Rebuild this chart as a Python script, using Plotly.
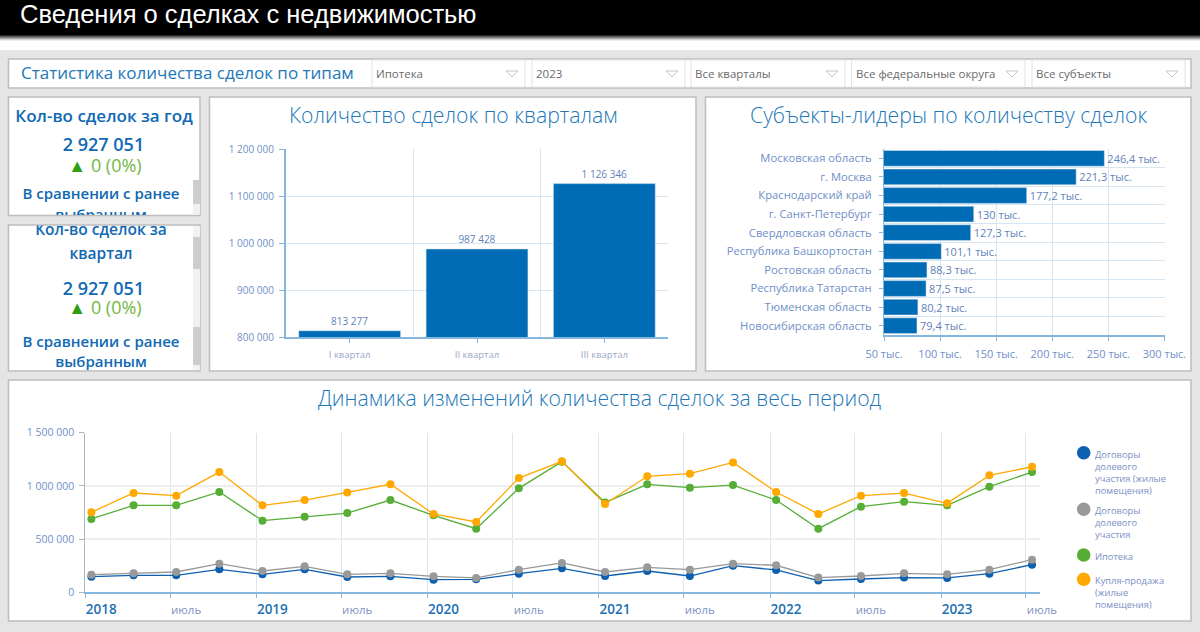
import plotly.graph_objects as go

W, H = 1200, 632
FONT = "Open Sans"
BLUE = "#006cb5"
TITLE_BLUE = "#2277b8"
TICK_BLUE = "#6f8fc8"
GRID = "#d6e6f3"
AXIS = "#86b6dc"

# Data
quarters = ["I квартал", "II квартал", "III квартал"]
quarter_deals = [813277, 987428, 1126346]

regions = ["Московская область", "г. Москва", "Краснодарский край", "г. Санкт-Петербург",
           "Свердловская область", "Республика Башкортостан", "Ростовская область",
           "Республика Татарстан", "Тюменская область", "Новосибирская область"]
region_deals = [246.4, 221.3, 177.2, 130, 127.3, 101.1, 88.3, 87.5, 80.2, 79.4]
region_ticks = [50, 100, 150, 200, 250, 300]

dates = ["2018-01-14", "2018-04-14", "2018-07-14", "2018-10-14",
         "2019-01-14", "2019-04-14", "2019-07-14", "2019-10-14",
         "2020-01-14", "2020-04-14", "2020-07-14", "2020-10-14",
         "2021-01-14", "2021-04-14", "2021-07-14", "2021-10-14",
         "2022-01-14", "2022-04-14", "2022-07-14", "2022-10-14",
         "2023-01-14", "2023-04-14", "2023-07-14"]
ddu_housing = [147000, 160000, 160000, 216000, 169000, 216000, 144000, 150000, 119000, 122000, 175000, 225000,
               153000, 200000, 153000, 250000, 210000, 110000, 125000, 138000, 135000, 175000, 260000]
ddu_all = [166000, 178000, 191000, 269000, 200000, 244000, 169000, 178000, 150000, 135000, 213000, 276000,
           191000, 235000, 213000, 269000, 254000, 138000, 153000, 178000, 169000, 213000, 307000]
mortgage = [689000, 817000, 817000, 943000, 673000, 711000, 745000, 867000, 723000, 598000, 977000, 1228000,
            845000, 1015000, 983000, 1008000, 867000, 598000, 805000, 852000, 817000, 993000, 1130000]
purchase = [752000, 933000, 908000, 1130000, 817000, 867000, 939000, 1015000, 736000, 661000, 1074000, 1231000,
            830000, 1090000, 1115000, 1221000, 943000, 736000, 908000, 933000, 836000, 1099000, 1180000]

year_ticks = ["2018-01-01", "2018-07-01", "2019-01-01", "2019-07-01", "2020-01-01", "2020-07-01",
              "2021-01-01", "2021-07-01", "2022-01-01", "2022-07-01", "2023-01-01", "2023-07-01"]
year_labels = ["2018", "июль", "2019", "июль", "2020", "июль", "2021", "июль", "2022", "июль", "2023", "июль"]

series_names = ["Договоры<br>долевого<br>участия (жилые<br>помещения)",
                "Договоры<br>долевого<br>участия",
                "Ипотека",
                "Купля-продажа<br>(жилые<br>помещения)"]
series_colors = ["#0d5fb0", "#999999", "#56ae36", "#ffa800"]

filters = ["Ипотека", "2023", "Все кварталы", "Все федеральные округа", "Все субъекты"]


# pixel helpers, the reference was measured in screen pixels
def dom_x(a, b):
    return [a / W, b / W]


def dom_y(top, bottom):
    return [1 - bottom / H, 1 - top / H]


shapes = []
annotations = []


def box(x0, y0, x1, y1, fill, line=None, width=1, layer="below"):
    shapes.append(dict(type="rect", xref="paper", yref="paper", layer=layer,
                       x0=x0 / W, x1=x1 / W, y0=1 - y0 / H, y1=1 - y1 / H,
                       fillcolor=fill, line=dict(color=line or fill, width=width if line else 0)))


def label(x, y, text, size, color, anchor="center", weight=400, family=FONT, valign="middle"):
    annotations.append(dict(xref="paper", yref="paper", x=x / W, y=1 - y / H, text=text, showarrow=False,
                            xanchor=anchor, yanchor=valign, align=anchor if anchor != "center" else "center",
                            borderpad=0, font=dict(family=family, size=size, color=color, weight=weight)))


fig = go.Figure()

# Page background and header
box(0, 0, W, H, "#ffffff")
box(0, 50, W, H, "#e5e5e5")
box(0, 0, W, 35, "#000000")
for i, c in enumerate(["#2a2a2a", "#555555", "#808080", "#a8a8a8", "#cfcfcf", "#eeeeee"]):
    box(0, 35 + i, W, 36 + i, c)
label(19, 14, "Сведения о сделках с недвижимостью", 25.5, "#ffffff", "left", family="Liberation Sans")

# Panels
PANEL_LINE = "#bdbdbd"
box(8.5, 59, 1191, 88, "#ffffff", PANEL_LINE, 1.5)
box(8.5, 97, 200, 215.5, "#ffffff", PANEL_LINE, 1.5)
box(8.5, 225, 200, 371, "#ffffff", PANEL_LINE, 1.5)
box(209.5, 97, 696, 371, "#ffffff", PANEL_LINE, 1.5)
box(705.5, 97, 1191, 371, "#ffffff", PANEL_LINE, 1.5)
box(8.5, 380, 1191, 621, "#ffffff", PANEL_LINE, 1.5)

# Filter row
label(20, 73, "Статистика количества сделок по типам", 17, TITLE_BLUE, "left")
filter_edges = [(372, 525), (532, 685), (691, 845), (851.5, 1025), (1032, 1185)]
for (a, b), name in zip(filter_edges, filters):
    box(a, 60, b, 87, "#ffffff", "#e2e2e2", 1)
    label(a + 3, 74, name, 11.5, "#6a6a6a", "left")
    tx = b - 13
    shapes.append(dict(type="path", xref="paper", yref="paper", layer="below",
                       path=f"M {(tx - 6) / W} {1 - 71 / H} L {(tx + 6) / W} {1 - 71 / H} L {tx / W} {1 - 77 / H} Z",
                       line=dict(color="#c6c6c6", width=1), fillcolor="#ffffff"))

# KPI card scrollbars
box(193, 180, 200, 214.5, "#f1f1f1", layer="below")
box(193, 180, 200, 204, "#cdcdcd", layer="below")
box(193, 226, 200, 370, "#f1f1f1", layer="below")
box(193, 237, 200, 269, "#cdcdcd", layer="below")
box(193, 327, 200, 365, "#cdcdcd", layer="below")

# Chart titles
label(453, 114.5, "Количество сделок по кварталам", 21.2, TITLE_BLUE, weight=300)
label(949, 114.5, "Субъекты-лидеры по количеству сделок", 21.2, TITLE_BLUE, weight=300)
label(600, 397.5, "Динамика изменений количества сделок за весь период", 21.2, TITLE_BLUE, weight=300)

# Quarter bars
qx = list(range(len(quarters)))
fig.add_trace(go.Bar(x=qx, y=quarter_deals, marker=dict(color=BLUE), width=0.8,
                     text=[f"{v:,d}".replace(",", " ") for v in quarter_deals], textposition="outside",
                     textfont=dict(family=FONT, size=10, color="#5f82b8"), cliponaxis=False,
                     xaxis="x", yaxis="y", showlegend=False))

# Region bars
rx = list(range(len(regions)))
fig.add_trace(go.Bar(y=rx, x=region_deals, orientation="h", marker=dict(color=BLUE), width=0.85,
                     text=[f"{v:g}".replace(".", ",") + " тыс." for v in region_deals], textposition="outside",
                     textfont=dict(family=FONT, size=11, color="#5f82b8"), cliponaxis=False,
                     xaxis="x2", yaxis="y2", showlegend=False))

# Time series
for values, color in zip([ddu_housing, ddu_all, mortgage, purchase], series_colors):
    fig.add_trace(go.Scatter(x=dates, y=values, mode="lines+markers", line=dict(color=color, width=1.3),
                             marker=dict(color=color, size=8), xaxis="x3", yaxis="y3", showlegend=False))

# Legend drawn by hand: big dots with the first text line beside them
legend_dots = [452.7, 509.3, 555, 579.3]
for name, color, cy in zip(series_names, series_colors, legend_dots):
    shapes.append(dict(type="circle", xref="paper", yref="paper", layer="above",
                       x0=(1083.7 - 6.8) / W, x1=(1083.7 + 6.8) / W, y0=1 - (cy + 6.8) / H, y1=1 - (cy - 6.8) / H,
                       fillcolor=color, line=dict(width=0)))
    label(1094, cy - 6, name, 9.3, "#7a8fc4", "left", valign="top")

# KPI cards use text traces on hidden axes so the panel edge clips them
HEAD = "#0f69b4"
delta = '<span style="color:#2f9e0e">▲</span> <span style="color:#71b83f">0 (0%)</span>'


def card_text(ys, xs, texts, sizes, weights, xa, ya):
    for y, x, t, s, w in zip(ys, xs, texts, sizes, weights):
        fig.add_trace(go.Scatter(x=[x], y=[y], mode="text", text=[t], textposition="middle center",
                                 textfont=dict(family=FONT, size=s, color=HEAD, weight=w),
                                 xaxis=xa, yaxis=ya, showlegend=False, hoverinfo="skip"))


card_text([118, 146.5, 167, 195, 216.5], [104, 103.5, 105, 101, 101],
          ["Кол-во сделок за год", "2 927 051", delta, "В сравнении с ранее", "выбранным"],
          [17, 18, 18, 15, 15], [600, 600, 400, 600, 600], "x4", "y4")
card_text([231, 255, 290, 309, 343, 363], [101, 101, 103.5, 105, 101, 101],
          ["Кол-во сделок за", "квартал", "2 927 051", delta, "В сравнении с ранее", "выбранным"],
          [15.5, 15.5, 18, 18, 15, 15], [600, 600, 600, 400, 600, 600], "x5", "y5")

hidden = dict(visible=False, fixedrange=True)
fig.update_layout(
    width=W, height=H, margin=dict(l=0, r=0, t=0, b=0, autoexpand=False), autosize=False,
    paper_bgcolor="#ffffff", plot_bgcolor="rgba(0,0,0,0)", separators=", ",
    font=dict(family=FONT), shapes=shapes, annotations=annotations, bargap=0.2,
    xaxis=dict(anchor="y", domain=dom_x(286, 668), range=[-0.5, 2.5], tickvals=qx, ticktext=quarters, showgrid=False,
               minor=dict(tickvals=[-0.5, 0.5, 1.5, 2.5], showgrid=True, gridcolor=GRID, ticks=""),
               ticks="outside", ticklen=4, tickcolor=AXIS, showline=True, linecolor=AXIS, linewidth=2,
               zeroline=False, tickfont=dict(size=9.5, color="#9aa8c8"), ticklabelstandoff=4),
    yaxis=dict(anchor="x", domain=dom_y(149, 337), range=[800000, 1200000],
               tickvals=[800000, 900000, 1000000, 1100000, 1200000],
               tickformat=",d", gridcolor=GRID, ticks="outside", ticklen=5, tickcolor=AXIS, showline=True,
               linecolor=AXIS, linewidth=2, zeroline=False, tickfont=dict(size=10, color=TICK_BLUE),
               ticklabelstandoff=3),
    xaxis2=dict(anchor="y2", domain=dom_x(884, 1164.5), range=[50, 300], tickvals=region_ticks,
                ticktext=[f"{t} тыс." for t in region_ticks], gridcolor=GRID, ticks="outside", ticklen=4,
                tickcolor=AXIS, showline=True, linecolor=AXIS, linewidth=2, zeroline=False,
                tickfont=dict(size=11, color=TICK_BLUE), ticklabelstandoff=4, tickangle=0),
    yaxis2=dict(anchor="x2", domain=dom_y(149, 335), range=[9.5, -0.5], tickvals=rx, ticktext=regions, showgrid=False,
                minor=dict(tickvals=[i - 0.5 for i in range(len(regions) + 1)], showgrid=True, gridcolor=GRID, ticks=""),
                ticks="outside", ticklen=4, tickcolor=AXIS, showline=True, linecolor=AXIS, linewidth=1,
                zeroline=False, tickfont=dict(size=11.25, color=TICK_BLUE), ticklabelstandoff=5),
    xaxis3=dict(anchor="y3", domain=dom_x(85.3, 1040), type="date", range=["2018-01-01", "2023-07-31"], tickmode="array",
                tickvals=year_ticks,
                ticktext=[f'<span style="font-size:13.5px;font-weight:600;color:#1c6fb5">{t}</span>' if t != "июль" else t
                          for t in year_labels],
                gridcolor=GRID, ticks="outside", ticklen=4, tickcolor=AXIS, showline=True, linecolor=AXIS,
                linewidth=2, zeroline=False, tickfont=dict(size=11.5, color="#7f93c0"), tickangle=0,
                ticklabelshift=16, ticklabelstandoff=2),
    yaxis3=dict(anchor="x3", domain=dom_y(432.7, 592.3), range=[0, 1500000], tickvals=[0, 500000, 1000000, 1500000],
                tickformat=",d", gridcolor="#eeeeee", gridwidth=1.5, ticks="outside", ticklen=5, tickcolor="#aab8c4",
                showline=True, linecolor="#aab8c4", linewidth=1, zeroline=False,
                tickfont=dict(size=10.5, color=TICK_BLUE), ticklabelstandoff=3),
    xaxis4=dict(anchor="y4", domain=dom_x(9, 193), range=[9, 193], **hidden),
    yaxis4=dict(anchor="x4", domain=dom_y(98, 215), range=[215, 98], **hidden),
    xaxis5=dict(anchor="y5", domain=dom_x(9, 193), range=[9, 193], **hidden),
    yaxis5=dict(anchor="x5", domain=dom_y(225.5, 370), range=[370, 225.5], **hidden),
)

fig.write_html("out.html", config=dict(displayModeBar=False),
               post_script="document.body.style.margin='0';document.body.style.overflow='hidden';")
